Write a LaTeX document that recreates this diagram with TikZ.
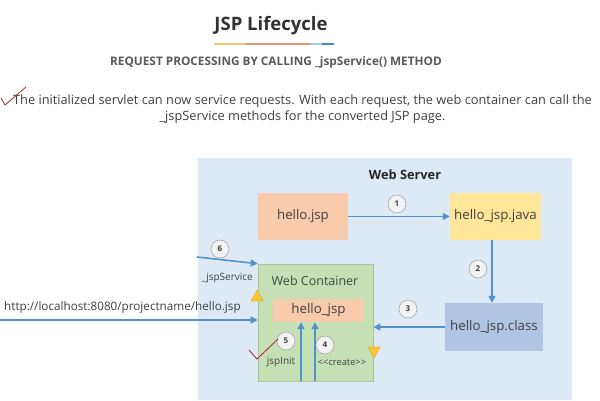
\documentclass[tikz,border=0pt]{standalone}
\usepackage{fontspec}
\setmainfont{Open Sans}
\usetikzlibrary{arrows.meta,calc}
\definecolor{wsbg}{RGB}{221,234,246}
\definecolor{peach}{RGB}{248,203,173}
\definecolor{javay}{RGB}{255,230,153}
\definecolor{classb}{RGB}{176,196,228}
\definecolor{wcgreen}{RGB}{197,224,180}
\definecolor{wcdraw}{RGB}{170,196,155}
\definecolor{arrowb}{RGB}{84,146,206}
\definecolor{txt}{RGB}{64,64,64}
\definecolor{ttl}{RGB}{50,50,50}
\definecolor{sub}{RGB}{90,90,90}
\definecolor{tri}{RGB}{255,200,50}
\definecolor{trid}{RGB}{215,165,40}
\definecolor{check}{RGB}{165,35,45}
\tikzset{
  boxx/.style={rectangle,inner sep=0pt,text=txt,font=\fontsize{13.3}{15}\selectfont},
  flow/.style={draw=arrowb,line width=1.6pt,-{Triangle[length=7pt,width=7pt]}},
  num/.style={circle,draw=black!35,fill=black!5,line width=0.6pt,minimum size=18pt,inner sep=0pt,font=\bfseries\fontsize{8}{9}\selectfont,text=txt},
  lbl/.style={inner sep=0pt,text=txt},
  tick/.style={draw=check,line width=0.8pt},
  tria/.style={fill=tri,draw=trid,line width=0.4pt}
}
\begin{document}
\begin{tikzpicture}[x=1pt,y=-1pt]
\useasboundingbox[fill=white] (0,0) rectangle (600,400);
% title
\node[lbl,text=ttl,font=\bfseries\fontsize{18.5}{20}\selectfont] (title) at (271,26) {JSP Lifecycle};
\draw[line width=2.5pt,color={rgb,255:red,240;green,200;blue,110}] (214,44) -- (245,44);
\draw[line width=2.5pt,color={rgb,255:red,230;green,150;blue,115}] (245,44) -- (310,44);
\draw[line width=2.5pt,color={rgb,255:red,160;green,205;blue,225}] (310,44) -- (322,44);
\draw[line width=2.5pt,color={rgb,255:red,70;green,140;blue,190}] (322,44) -- (334,44);
\node[lbl,text=sub,font=\bfseries\fontsize{11.8}{13}\selectfont] (subt) at (276,62) {REQUEST PROCESSING BY CALLING \_jspService() METHOD};
\node[lbl,font=\fontsize{12.8}{16}\selectfont,align=center] (para) at (302.5,109.5) {The initialized servlet can now service requests. With each request, the web container can call the\\\_jspService methods for the converted JSP page.};
\draw[tick] (1,98) -- (5,105) -- (26,87);
% web server
\node[rectangle,fill=wsbg,minimum width=374pt,minimum height=242pt,inner sep=0pt] (ws) at (385,279) {};
\node[lbl,text=black!85,font=\bfseries\fontsize{12.8}{14}\selectfont] (wst) at (405,175) {Web Server};
\node[boxx,fill=peach,minimum width=90pt,minimum height=47pt] (jsp) at (303,216.5) {hello.jsp};
\node[boxx,fill=javay,minimum width=91pt,minimum height=47pt] (java) at (495.5,216.5) {hello\_jsp.java};
\node[boxx,fill=classb,minimum width=98pt,minimum height=48pt] (class) at (494,327) {hello\_jsp.class};
\node[rectangle,fill=wcgreen,draw=wcdraw,line width=0.6pt,minimum width=115pt,minimum height=117pt,inner sep=0pt] (wc) at (315.5,322.5) {};
\node[lbl,text={rgb,255:red,60;green,75;blue,60},font=\fontsize{12.5}{14}\selectfont] (wct) at (315,281) {Web Container};
\node[boxx,fill=peach,minimum width=91pt,minimum height=23pt] (hj) at (318.5,310.5) {hello\_jsp};
% arrows
\draw[flow] (jsp.east) -- (java.west);
\node[num] (n1) at (397,204) {1};
\draw[flow] ([xshift=-3.5pt]java.south) -- ([xshift=-3.5pt]java.south |- class.north);
\node[num] (n2) at (478,269) {2};
\draw[flow] (class.west) -- (class.west -| wc.east);
\node[num] (n3) at (408,309) {3};
\coordinate (a5) at (301,381);
\coordinate (a4) at (315,381);
\draw[flow] (a5) -- (a5 |- hj.south);
\draw[flow] (a4) -- (a4 |- hj.south);
\node[num] (n5) at (286,341) {5};
\node[num] (n4) at (325,345) {4};
\node[lbl,font=\fontsize{10}{11}\selectfont] (ji) at (281,362) {jspInit};
\node[lbl,font=\fontsize{9.3}{11}\selectfont] (cr) at (342,362) {{<}{<}create{>}{>}};
\coordinate (s6) at (197,257);
\draw[flow] (s6) -- (wc.north west);
\node[num] (n6) at (220,249) {6};
\node[lbl,anchor=east,font=\fontsize{10}{11}\selectfont] (js) at (253,278) {\_jspService};
\coordinate (u0) at (0,320);
\draw[flow] (u0) -- (u0 -| wc.west);
\node[lbl,anchor=west,font=\fontsize{11.7}{13}\selectfont] (url) at (4,307) {http://localhost:8080/projectname/hello.jsp};
% triangles
\draw[tria] (251,301) -- (263,301) -- (257,290) -- cycle;
\draw[tria] (368,347) -- (380,347) -- (374,358) -- cycle;
\draw[tick] (249,350) -- (257,359) -- (278,339);
\end{tikzpicture}
\end{document}
